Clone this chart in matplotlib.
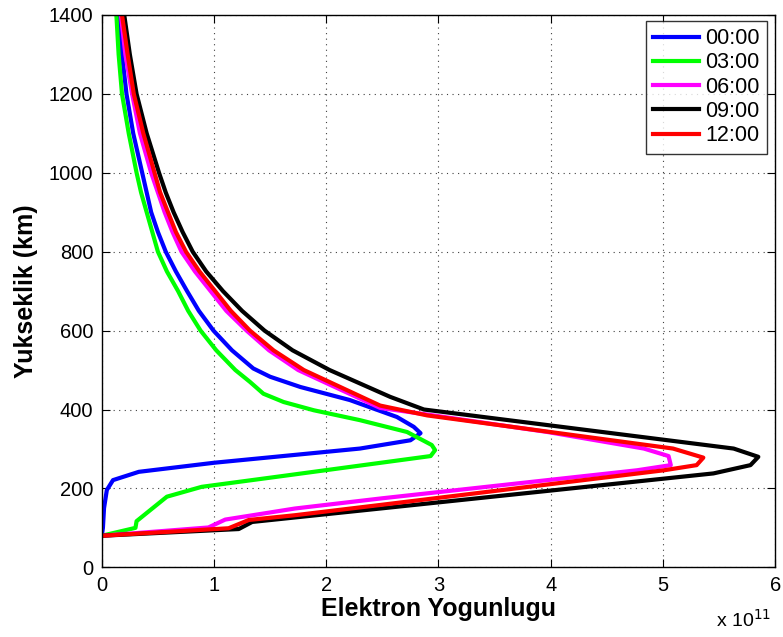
import matplotlib
matplotlib.use("Agg")
import matplotlib.pyplot as plt

plt.rcParams['font.family'] = ['Liberation Sans', 'DejaVu Sans']

labels = ["00:00", "03:00", "06:00", "09:00", "12:00"]
colors = ["#0000ff", "#00ff00", "#ff00ff", "#000000", "#ff0000"]

# electron density (x 1e11) and altitude (km)
ne_00 = [0.0, 0.01, 0.02, 0.045, 0.10, 0.33, 1.0, 2.30, 2.75, 2.84, 2.78, 2.63, 2.21, 1.77, 1.50, 1.35,
         1.16, 0.995, 0.865, 0.76, 0.66, 0.57, 0.50, 0.44, 0.40, 0.36, 0.28, 0.22, 0.18, 0.15]
alt_00 = [80, 100, 150, 196, 221, 242, 265, 301, 322, 340, 356, 381, 424, 457, 483, 504,
          550, 600, 650, 700, 750, 800, 850, 900, 950, 1000, 1100, 1200, 1300, 1400]

ne_03 = [0.0, 0.30, 0.31, 0.58, 0.89, 1.60, 2.93, 2.97, 2.94, 2.72, 2.30, 1.89, 1.62, 1.44, 1.32, 1.19,
         1.02, 0.88, 0.77, 0.68, 0.58, 0.50, 0.45, 0.40, 0.35, 0.31, 0.24, 0.18, 0.15, 0.13]
alt_03 = [80, 100, 117, 179, 204, 231, 282, 297, 310, 343, 373, 398, 419, 440, 470, 500,
          550, 600, 650, 700, 750, 800, 850, 900, 950, 1000, 1100, 1200, 1300, 1400]

ne_06 = [0.0, 0.95, 1.10, 1.72, 2.50, 4.77, 5.07, 5.05, 4.83, 3.97, 2.93, 2.48, 1.75,
         1.49, 1.29, 1.11, 0.97, 0.83, 0.71, 0.63, 0.56, 0.50, 0.44, 0.34, 0.27, 0.21, 0.17]
alt_06 = [80, 101, 121, 149, 175, 246, 259, 282, 301, 343, 386, 404, 500,
          550, 600, 650, 700, 750, 800, 850, 900, 950, 1000, 1100, 1200, 1300, 1400]

ne_09 = [0.0, 1.22, 1.34, 2.48, 5.45, 5.78, 5.85, 5.63, 2.87, 2.57, 2.03,
         1.70, 1.45, 1.25, 1.08, 0.93, 0.81, 0.72, 0.64, 0.57, 0.51, 0.40, 0.31, 0.25, 0.20]
alt_09 = [80, 97, 115, 149, 238, 259, 280, 301, 400, 432, 500,
          550, 600, 650, 700, 750, 800, 850, 900, 950, 1000, 1100, 1200, 1300, 1400]

ne_12 = [0.0, 1.13, 1.31, 1.72, 2.48, 5.01, 5.30, 5.36, 5.09, 2.90, 2.48, 1.80,
         1.53, 1.32, 1.15, 1.01, 0.87, 0.75, 0.66, 0.59, 0.52, 0.47, 0.37, 0.285, 0.23, 0.18]
alt_12 = [80, 99, 120, 132, 158, 246, 259, 278, 301, 385, 410, 500,
          550, 600, 650, 700, 750, 800, 850, 900, 950, 1000, 1100, 1200, 1300, 1400]

series_x = [ne_00, ne_03, ne_06, ne_09, ne_12]
series_y = [alt_00, alt_03, alt_06, alt_09, alt_12]

xticks = [0, 1, 2, 3, 4, 5, 6]
yticks = [0, 200, 400, 600, 800, 1000, 1200, 1400]

fig = plt.figure(figsize=(7.83, 6.37), dpi=100)
ax = fig.add_axes([0.130, 0.1094, 0.860, 0.8671])

for xs, ys, c, lab in zip(series_x, series_y, colors, labels):
    ax.plot([v * 1e11 for v in xs], ys, color=c, lw=3, label=lab)

ax.set_xlim(0, 6e11)
ax.set_ylim(0, 1400)
ax.set_xticks([t * 1e11 for t in xticks])
ax.set_xticklabels([str(t) for t in xticks])
ax.set_yticks(yticks)
ax.set_yticklabels([str(t) for t in yticks])
ax.tick_params(direction='in', top=True, right=True, length=6, width=0.8, labelsize=14.5, pad=6)
ax.grid(True, linestyle=(0, (1, 4)), color='#404040', linewidth=0.8)
for sp in ax.spines.values():
    sp.set_linewidth(1.0)

ax.set_xlabel("Elektron Yogunlugu", fontsize=18, fontweight='bold', labelpad=2)
ax.set_ylabel("Yukseklik (km)", fontsize=18, fontweight='bold', labelpad=8)

fig.text(0.914, 0.0157, r"x 10$^{11}$", fontsize=14, ha='left', va='baseline')

leg = ax.legend(loc='upper right', bbox_to_anchor=(0.988, 0.9897), borderaxespad=0,
                fontsize=15.5, frameon=True, fancybox=False,
                edgecolor='black', handlelength=2.1, handletextpad=0.3,
                labelspacing=0.15, borderpad=0.35)
leg.get_frame().set_linewidth(1.0)

fig.savefig("out.png", dpi=100)
